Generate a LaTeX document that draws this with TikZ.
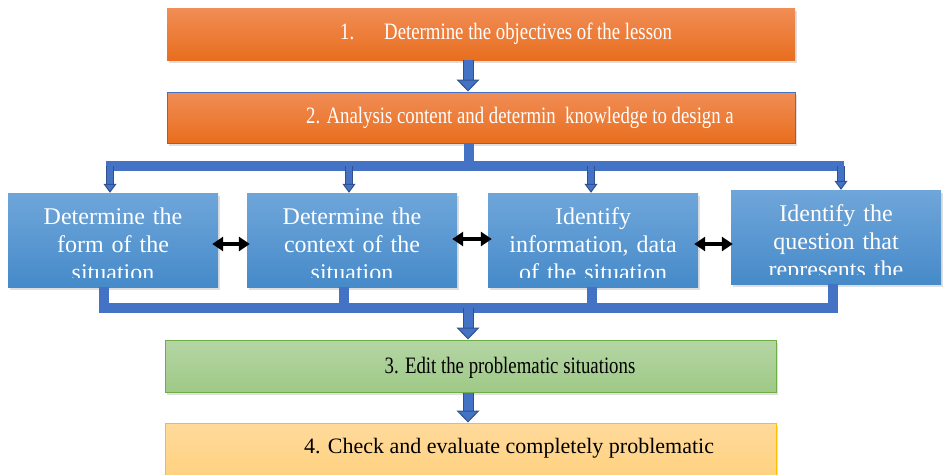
\documentclass[tikz,border=0pt]{standalone}
\usepackage{fontspec}
\setmainfont{Liberation Serif}
\newfontfamily\narrowserif[FakeStretch=0.8]{Liberation Serif}
\usetikzlibrary{arrows.meta,shadows}

\definecolor{orangetop}{RGB}{241,141,86}
\definecolor{orangebot}{RGB}{232,110,30}
\definecolor{bluetop}{RGB}{111,166,218}
\definecolor{bluebot}{RGB}{70,138,201}
\definecolor{busblue}{RGB}{68,114,196}
\definecolor{edgeblue}{RGB}{47,82,143}
\definecolor{greentop}{RGB}{181,214,165}
\definecolor{greenbot}{RGB}{158,201,134}
\definecolor{greenedge}{RGB}{112,173,71}
\definecolor{yellowtop}{RGB}{255,218,156}
\definecolor{yellowbot}{RGB}{255,210,128}
\definecolor{yellowedge}{RGB}{255,192,0}

\tikzset{
	softshadow/.style={drop shadow={shadow xshift=2pt, shadow yshift=-3pt, opacity=0.25}},
	stagebox/.style={minimum width=628pt, minimum height=52pt, inner sep=0pt, top color=orangetop, bottom color=orangebot, softshadow},
	taskbox/.style={minimum width=210pt, minimum height=94pt, inner sep=0pt, top color=bluetop, bottom color=bluebot, softshadow},
	stagetext/.style={anchor=base, inner sep=0pt, font=\narrowserif\fontsize{23.5}{26}\selectfont},
	tasktext/.style={anchor=base, inner sep=0pt, text=white, text width=205pt, align=center, font=\fontsize{24}{28}\selectfont},
	bus/.style={line width=10pt, draw=busblue, line join=miter},
	bigarrow/.style={line width=9pt, draw=busblue, preaction={draw=edgeblue, line width=11pt, shorten >=10pt, -},
		-{Triangle[width=23pt, length=12pt, line width=1pt, fill=busblue, color=edgeblue]}},
	smallarrow/.style={line width=6pt, draw=busblue, preaction={draw=edgeblue, line width=7.5pt, shorten >=8pt, -},
		-{Triangle[width=13pt, length=9pt, line width=1pt, fill=busblue, color=edgeblue]}},
	dblarrow/.style={line width=3.5pt, {Triangle[width=14pt, length=11pt]}-{Triangle[width=14pt, length=11pt]}}
}

\begin{document}
\begin{tikzpicture}[x=1pt, y=-1pt]

			\useasboundingbox (0,0) rectangle (945,474);

			% stages
			\node[stagebox] (obj) at (481,34) {};
			\node[stagebox, draw=busblue, line width=1pt, minimum height=51pt] (ana) at (481,117.5) {};
			\node[stagebox, minimum width=611pt, top color=greentop, bottom color=greenbot, draw=greenedge, line width=1pt, drop shadow={opacity=0}] (edit) at (470.5,366) {};
			\node[stagebox, minimum width=611pt, top color=yellowtop, bottom color=yellowbot, draw=yellowedge, line width=1pt, drop shadow={opacity=0}] (check) at (470.5,449) {};

			\node[stagetext, text=white] (objtext) at ([xshift=25pt,yshift=-5pt]obj.center) {1.\hspace{30pt}Determine the objectives of the lesson};
			\node[stagetext, text=white] (anatext) at ([xshift=39pt,yshift=-5.5pt]ana.center) {2. Analysis content and determin\ \ knowledge to design a};
			\node[stagetext] (edittext) at ([xshift=39.5pt,yshift=-7pt]edit.center) {3. Edit the problematic situations};
			\node[stagetext, font=\fontsize{22}{26}\selectfont] (checktext) at ([xshift=38.5pt,yshift=-4pt]check.center) {4. Check and evaluate completely problematic};

			% the four tasks
			\node[taskbox] (form) at (113,240) {};
			\node[taskbox] (context) at (352,240) {};
			\node[taskbox] (info) at (593,240) {};
			\node[taskbox] (question) at (836,237) {};

			\begin{scope}
				\clip (form.north west) rectangle ([yshift=10pt]form.south east);
				\node[tasktext] (formtext) at ([yshift=-32pt]form.north) {Determine the\\form of the\\situation};
			\end{scope}
			\begin{scope}
				\clip (context.north west) rectangle ([yshift=10pt]context.south east);
				\node[tasktext] (contexttext) at ([yshift=-32pt]context.north) {Determine the\\context of the\\situation};
			\end{scope}
			\begin{scope}
				\clip (info.north west) rectangle ([yshift=10pt]info.south east);
				\node[tasktext] (infotext) at ([yshift=-32pt]info.north) {Identify\\information, data\\of the situation};
			\end{scope}
			\begin{scope}
				\clip (question.north west) rectangle ([yshift=10pt]question.south east);
				\node[tasktext] (questiontext) at ([yshift=-32pt]question.north) {Identify the\\question that\\represents the};
			\end{scope}

			% top bus
			\coordinate (tbus) at (469,166);
			\coordinate (tA) at (110,166);
			\coordinate (tB) at (349,166);
			\coordinate (tC) at (591,166);
			\coordinate (tD) at (841,166);
			\draw[bus] (ana.south -| tbus) -- (tbus);
			\draw[bus] ([xshift=-4pt]tA) -- ([xshift=3pt]tD);
			\draw[smallarrow] (tA) -- (tA |- form.north);
			\draw[smallarrow] (tB) -- (tB |- context.north);
			\draw[smallarrow] (tC) -- (tC |- info.north);
			\draw[smallarrow] (tD) -- (tD |- question.north);

			% bottom bus
			\coordinate (bA) at (104,308);
			\coordinate (bB) at (344,308);
			\coordinate (bC) at (592,308);
			\coordinate (bD) at (833,308);
			\coordinate (bmid) at (468,308);
			\draw[bus] (bA |- form.south) -- (bA) -- (bD) -- (bD |- question.south);
			\draw[bus] (bB |- context.south) -- (bB);
			\draw[bus] (bC |- info.south) -- (bC);

			% main arrows
			\draw[bigarrow] (obj.south -| bmid) -- (ana.north -| bmid);
			\draw[bigarrow] (bmid) -- (bmid |- edit.north);
			\draw[bigarrow] (edit.south -| bmid) -- (check.north -| bmid);

			% links between tasks
			\draw[dblarrow] ([xshift=-6pt,yshift=-4pt]form.east) -- ([xshift=3pt,yshift=-4pt]context.west);
			\draw[dblarrow] ([xshift=-5pt,yshift=1pt]context.east) -- ([xshift=4pt,yshift=1pt]info.west);
			\draw[dblarrow] ([xshift=-4pt,yshift=-4pt]info.east) -- ([xshift=2pt,yshift=-7pt]question.west);

		\end{tikzpicture}
\end{document}
